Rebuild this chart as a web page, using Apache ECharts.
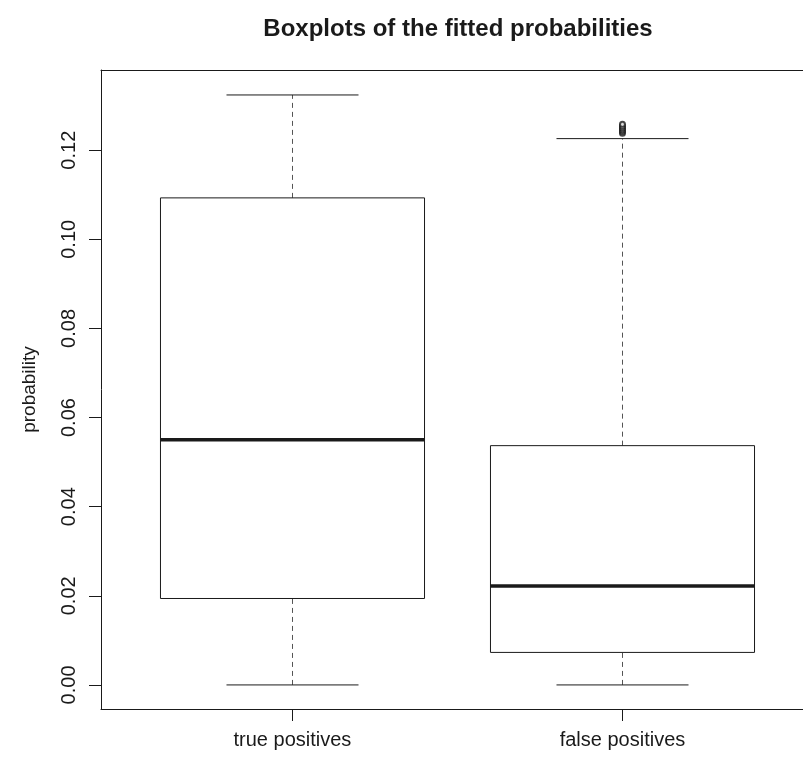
<!DOCTYPE html>
<html>
<head>
<meta charset="utf-8">
<title>Boxplots of the fitted probabilities</title>
<script src="https://cdn.jsdelivr.net/npm/echarts@6/dist/echarts.min.js"></script>
<style>
  html, body { margin: 0; padding: 0; background: #fff; }
  #main { width: 803px; height: 757px; }
</style>
</head>
<body>
<div id="main"></div>
<script>
// groups on the x axis
const groups = ['true positives', 'false positives'];
// whisker ends, quartiles and medians per group
const whiskerLow = [0, 0];
const q1 = [0.0194, 0.0073];
const medians = [0.0550, 0.0222];
const q3 = [0.1093, 0.0537];
const whiskerHigh = [0.1324, 0.1226];
// outlying points above the false positives whisker
const outliersFP = [0.1238, 0.1242, 0.1246, 0.1250, 0.1254, 0.1258];
const yTicks = [0, 0.02, 0.04, 0.06, 0.08, 0.10, 0.12];

const ink = '#1a1a1a';
const font = '"Liberation Sans", Arial, Helvetica, sans-serif';

const boxData = groups.map((g, i) => [i + 1, whiskerLow[i], q1[i], medians[i], q3[i], whiskerHigh[i]]);

function renderBox(params, api) {
  const x = api.value(0);
  const lo = api.coord([x, api.value(1)]);
  const b1 = api.coord([x, api.value(2)]);
  const md = api.coord([x, api.value(3)]);
  const b3 = api.coord([x, api.value(4)]);
  const hi = api.coord([x, api.value(5)]);
  const half = api.size([0.4, 0])[0];
  const cap = half / 2;
  const cx = Math.round(lo[0]) + 0.5;
  const seg = (x1, y1, x2, y2, style) => ({
    type: 'line',
    shape: { x1: x1, y1: y1, x2: x2, y2: y2 },
    style: Object.assign({ stroke: ink, lineWidth: 1 }, style)
  });
  return {
    type: 'group',
    children: [
      seg(cx, lo[1], cx, b1[1], { stroke: '#555', lineDash: [5, 4] }),
      seg(cx, b3[1], cx, hi[1], { stroke: '#555', lineDash: [5, 4] }),
      seg(cx - cap, lo[1], cx + cap, lo[1]),
      seg(cx - cap, hi[1], cx + cap, hi[1]),
      {
        type: 'rect',
        shape: { x: cx - half, y: b3[1], width: half * 2, height: b1[1] - b3[1] },
        style: { fill: 'none', stroke: ink, lineWidth: 1 }
      },
      seg(cx - half, md[1], cx + half, md[1], { lineWidth: 3.5 })
    ]
  };
}

const chart = echarts.init(document.getElementById('main'));
chart.setOption({
  animation: false,
  backgroundColor: '#fff',
  title: {
    text: 'Boxplots of the fitted probabilities',
    left: 453,
    textAlign: 'center',
    top: 12,
    textStyle: { fontFamily: font, fontSize: 24, fontWeight: 'bold', color: ink }
  },
  grid: {
    left: 101,
    top: 70,
    right: 0,
    height: 639
  },
  xAxis: [
    {
      type: 'value',
      min: 0.42,
      max: 2.547,
      axisLine: { show: true, onZero: false, lineStyle: { color: ink, width: 1 } },
      splitLine: { show: false },
      axisTick: { show: true, length: 12, customValues: [1, 2], lineStyle: { color: ink } },
      axisLabel: {
        customValues: [1, 2],
        formatter: v => groups[Math.round(v) - 1],
        margin: 21,
        fontFamily: font,
        fontSize: 20,
        color: ink
      }
    },
    {
      // top frame line
      type: 'value',
      position: 'top',
      min: 0.42,
      max: 2.547,
      axisLine: { show: true, onZero: false, lineStyle: { color: ink, width: 1 } },
      axisTick: { show: false },
      axisLabel: { show: false },
      splitLine: { show: false }
    }
  ],
  yAxis: {
    type: 'value',
    min: -0.0054,
    max: 0.138,
    name: 'probability',
    nameLocation: 'middle',
    nameGap: 62,
    nameTextStyle: { fontFamily: font, fontSize: 19, color: ink },
    axisLine: { show: true, onZero: false, lineStyle: { color: ink, width: 1 } },
    splitLine: { show: false },
    axisTick: { show: true, length: 12, customValues: yTicks, lineStyle: { color: ink } },
    axisLabel: {
      customValues: yTicks,
      formatter: v => v.toFixed(2),
      rotate: 90,
      margin: 22,
      fontFamily: font,
      fontSize: 20,
      color: ink
    }
  },
  series: [
    {
      type: 'custom',
      renderItem: renderBox,
      encode: { x: 0, y: [1, 2, 3, 4, 5] },
      data: boxData,
      silent: true
    },
    {
      type: 'scatter',
      data: outliersFP.map(v => [2, v]),
      symbol: 'emptyCircle',
      symbolSize: 5,
      itemStyle: { color: ink, borderColor: ink, borderWidth: 1.5 },
      silent: true
    }
  ]
});
</script>
</body>
</html>
